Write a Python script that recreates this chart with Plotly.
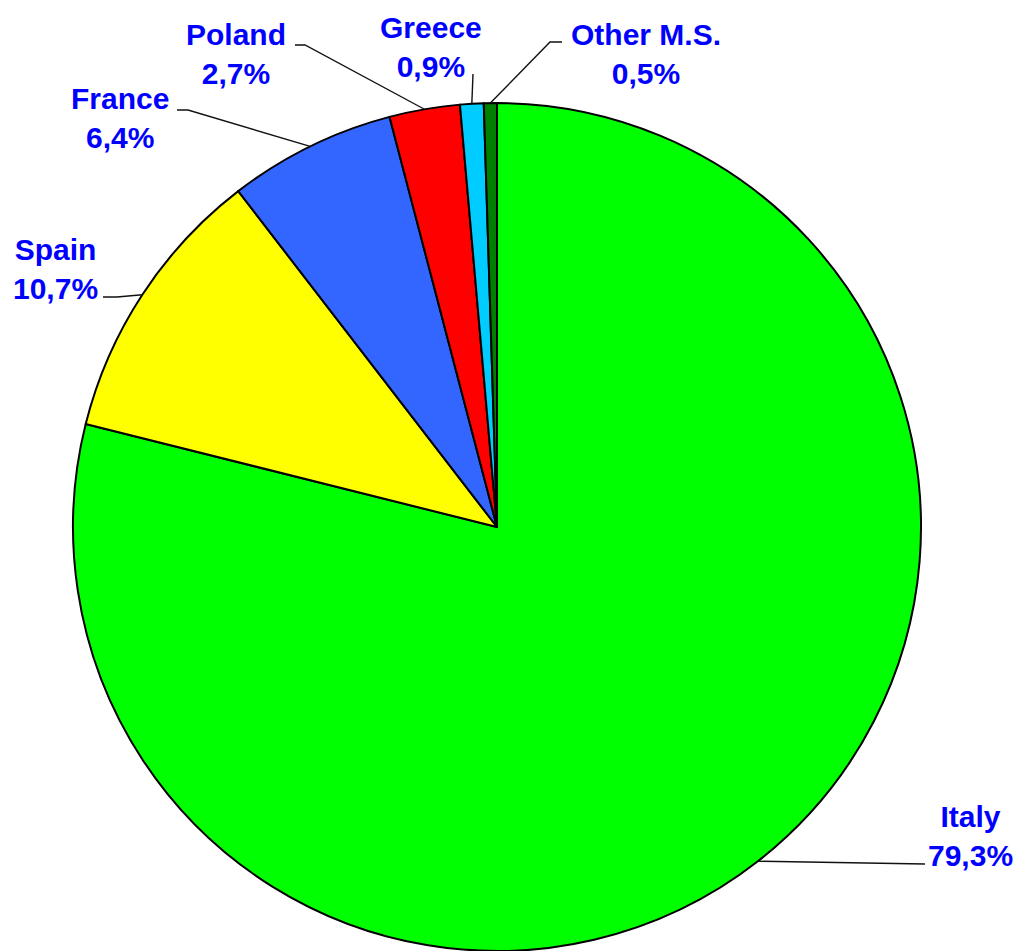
import math
import plotly.graph_objects as go

# Data
countries = ["Italy", "Spain", "France", "Poland", "Greece", "Other M.S."]
shares = [79.3, 10.7, 6.4, 2.7, 0.9, 0.5]
colors = ["#00FF00", "#FFFF00", "#3366FF", "#FF0000", "#00CCFF", "#008000"]

W, H = 1022, 951
OFF = 8  # page body margin
CX, CY, R = 497 - OFF, 527 - OFF, 424  # pie centre and radius in pixels

# label block centres and leader-line elbows/ends (pixels, page coords)
label_pos = [(970, 836), (55, 269), (120, 118), (236, 54), (431, 47), (646, 54)]
leader_pts = [
    [(925, 864)],
    [(103, 297), (117, 297)],
    [(177, 110), (188, 110)],
    [(295, 45), (305, 45)],
    [(473, 74)],
    [(562, 42), (550, 42)],
]


def px(x, y):
    return x / W, 1 - y / H


fig = go.Figure()
fig.add_trace(go.Pie(
    labels=countries,
    values=shares,
    marker=dict(colors=colors, line=dict(color="black", width=2)),
    sort=False,
    direction="clockwise",
    rotation=0,
    textinfo="none",
    hoverinfo="label+percent",
    showlegend=False,
    domain=dict(x=[(CX - R) / W, (CX + R) / W], y=[1 - (CY + R) / H, 1 - (CY - R) / H]),
))

total = sum(shares)
cum = 0
shapes = []
annotations = []
for name, v, (lx, ly), pts in zip(countries, shares, label_pos, leader_pts):
    mid = (cum + v / 2) / total * 2 * math.pi
    cum += v
    ex = CX + R * math.sin(mid)
    ey = CY - R * math.cos(mid)
    path_pts = [(x - OFF, y - OFF) for x, y in pts] + [(ex, ey)]
    x0, y0 = px(*path_pts[0])
    d = f"M {x0},{y0}"
    for p in path_pts[1:]:
        xx, yy = px(*p)
        d += f" L {xx},{yy}"
    shapes.append(dict(type="path", path=d, xref="paper", yref="paper",
                       line=dict(color="#111111", width=1.4)))
    ax, ay = px(lx - OFF, ly - OFF)
    pct = f"{v:.1f}".replace(".", ",") + "%"
    annotations.append(dict(
        x=ax, y=ay, xref="paper", yref="paper", showarrow=False,
        text=f"<b>{name}<br>{pct}</b>", align="center",
        xanchor="center", yanchor="middle",
        font=dict(family="Liberation Sans, Arial", size=30, color="#0000FF"),
    ))

fig.update_layout(
    width=W, height=H,
    margin=dict(l=0, r=0, t=0, b=0),
    paper_bgcolor="white",
    plot_bgcolor="white",
    shapes=shapes,
    annotations=annotations,
)

fig.write_html("out.html")
